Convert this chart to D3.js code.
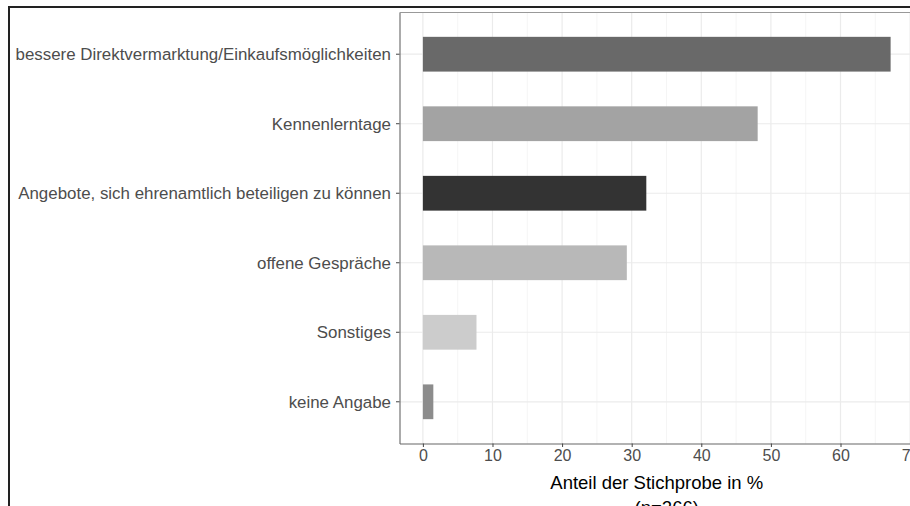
<!DOCTYPE html>
<html><head><meta charset="utf-8">
<script src="https://cdn.jsdelivr.net/npm/d3@7"></script>
<style>html,body{margin:0;padding:0;background:#fff;overflow:hidden}</style>
</head><body>
<script>
const categories = [
  "bessere Direktvermarktung/Einkaufsmöglichkeiten",
  "Kennenlerntage",
  "Angebote, sich ehrenamtlich beteiligen zu können",
  "offene Gespräche",
  "Sonstiges",
  "keine Angabe"
];
const values = [67.2, 48.1, 32.1, 29.3, 7.7, 1.5];
const barColors = ["#696969", "#a3a3a3", "#333333", "#b8b8b8", "#cccccc", "#8c8c8c"];
const xTicks = [0, 10, 20, 30, 40, 50, 60, 70];
const xMinor = [5, 15, 25, 35, 45, 55, 65];
const xTitle = "Anteil der Stichprobe in %";
const xSubTitle = "(n=266)";

const W = 910, H = 506;
const panel = {left: 399.5, top: 12.5, right: 914, bottom: 443.5};
const FONT = "'Liberation Sans', Arial, Helvetica, sans-serif";
const svg = d3.select("body").append("svg").attr("width", W).attr("height", H)
  .style("font-family", FONT);

const x = d3.scaleLinear().domain([-3.36, 70.56]).range([panel.left, panel.right]);
const y = d3.scaleBand().domain(categories).range([panel.top, panel.bottom])
  .paddingInner(0.5).paddingOuter(0.35);

// outer frame
svg.append("path").attr("d", `M9,${H+5} V7 H${W+5}`).attr("fill", "none")
  .attr("stroke", "#222").attr("stroke-width", 2);

const g = svg.append("g");
g.selectAll(".minor").data(xMinor).join("line")
  .attr("x1", d => x(d)).attr("x2", d => x(d)).attr("y1", panel.top).attr("y2", panel.bottom)
  .attr("stroke", "#f2f2f2").attr("stroke-width", 0.8);
g.selectAll(".major").data(xTicks).join("line")
  .attr("x1", d => x(d)).attr("x2", d => x(d)).attr("y1", panel.top).attr("y2", panel.bottom)
  .attr("stroke", "#ebebeb").attr("stroke-width", 1.2);
g.selectAll(".hgrid").data(categories).join("line")
  .attr("x1", panel.left).attr("x2", panel.right)
  .attr("y1", d => y(d) + y.bandwidth() / 2).attr("y2", d => y(d) + y.bandwidth() / 2)
  .attr("stroke", "#ebebeb").attr("stroke-width", 1.2);

g.selectAll(".bar").data(categories).join("rect")
  .attr("x", x(0)).attr("y", d => y(d))
  .attr("width", (d, i) => x(values[i]) - x(0))
  .attr("height", y.bandwidth())
  .attr("fill", (d, i) => barColors[i]);

svg.append("line").attr("x1", panel.left).attr("x2", W + 5).attr("y1", panel.top).attr("y2", panel.top)
  .attr("stroke", "#999").attr("stroke-width", 1.2);

const xAxis = svg.append("g").attr("transform", `translate(0,${panel.bottom})`)
  .call(d3.axisBottom(x).tickValues(xTicks).tickSize(3.5).tickSizeOuter(0).tickPadding(3));
const yAxis = svg.append("g").attr("transform", `translate(${panel.left},0)`)
  .call(d3.axisLeft(y).tickSize(3.5).tickSizeOuter(0).tickPadding(5));
[xAxis, yAxis].forEach(a => {
  a.select(".domain").attr("stroke", "#666").attr("stroke-width", 1.1);
  a.selectAll(".tick line").attr("stroke", "#444").attr("stroke-width", 1);
  a.selectAll(".tick text").attr("fill", "#4d4d4d").style("font-family", FONT);
});
xAxis.selectAll(".tick text").style("font-size", "16px");
yAxis.selectAll(".tick text").style("font-size", "16.9px").attr("dy", "0.35em");

svg.append("text").attr("x", (panel.left + panel.right) / 2).attr("y", 489)
  .attr("text-anchor", "middle").style("font-size", "18.5px").attr("fill", "#000").text(xTitle);
svg.append("text").attr("x", (panel.left + panel.right) / 2 + 10).attr("y", 514)
  .attr("text-anchor", "middle").style("font-size", "18.5px").attr("fill", "#000").text(xSubTitle);
</script>
</body></html>
